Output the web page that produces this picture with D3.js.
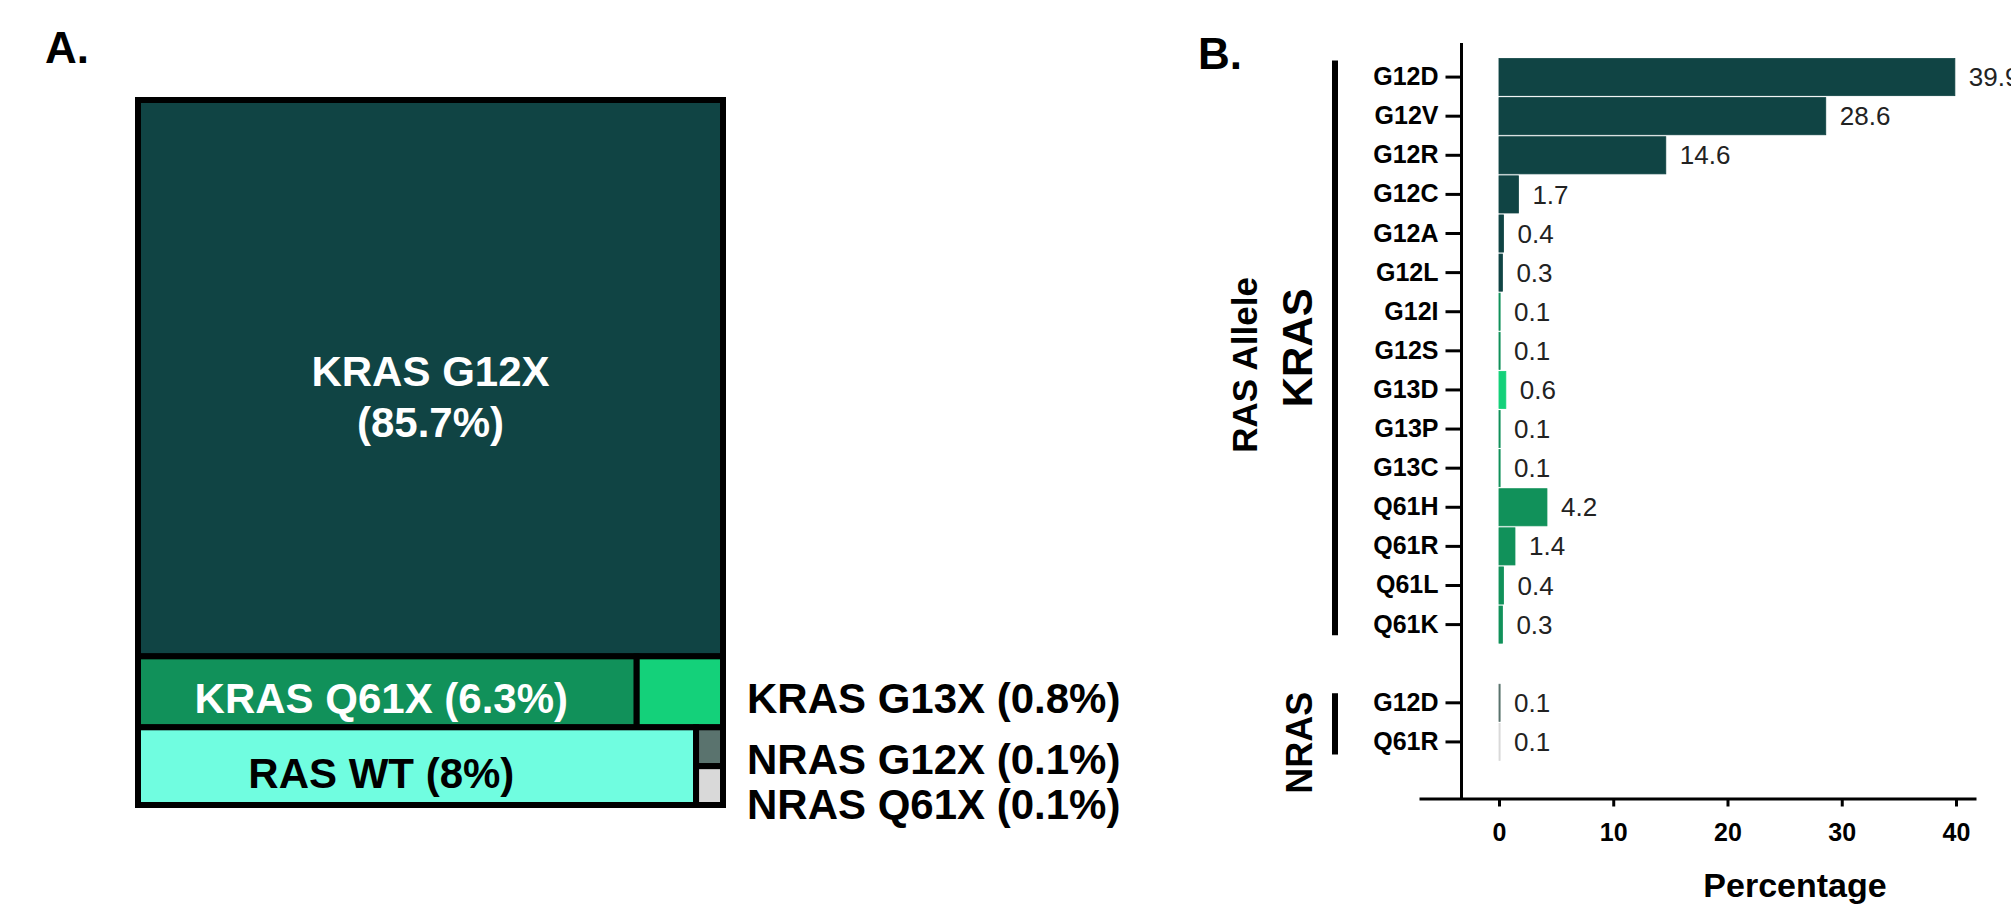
<!DOCTYPE html>
<html>
<head>
<meta charset="utf-8">
<script src="https://cdn.jsdelivr.net/npm/d3@7"></script>
<style>
  html, body { margin: 0; padding: 0; background: #fff; }
  svg { display: block; font-family: "Liberation Sans", Arial, Helvetica, sans-serif; }
</style>
</head>
<body>
<svg id="chart" width="2011" height="904"></svg>
<script>
// panel A: share of RAS groups (%)
const groupNames = ['KRAS G12X', 'KRAS Q61X', 'KRAS G13X', 'RAS WT', 'NRAS G12X', 'NRAS Q61X'];
const groupValues = [85.7, 6.3, 0.8, 8, 0.1, 0.1];
const groupColors = ['#104444', '#11915a', '#14d17a', '#70fde0', '#5a736e', '#d9d9d9'];

// panel B: individual alleles (%)
const kAlleles = ['G12D', 'G12V', 'G12R', 'G12C', 'G12A', 'G12L', 'G12I', 'G12S', 'G13D', 'G13P', 'G13C', 'Q61H', 'Q61R', 'Q61L', 'Q61K'];
const kValues = [39.9, 28.6, 14.6, 1.7, 0.4, 0.3, 0.1, 0.1, 0.6, 0.1, 0.1, 4.2, 1.4, 0.4, 0.3];
const kColors = ['#104444', '#104444', '#104444', '#104444', '#104444', '#104444', '#11915a', '#11915a',
  '#14d17a', '#11915a', '#11915a', '#11915a', '#11915a', '#11915a', '#11915a'];
const nAlleles = ['G12D', 'Q61R'];
const nValues = [0.1, 0.1];
const nColors = ['#5a736e', '#d9d9d9'];
const xTicks = [0, 10, 20, 30, 40];

const svg = d3.select('#chart');
svg.append('rect').attr('width', 2011).attr('height', 904).attr('fill', '#fff');

// ---------- panel A ----------
svg.append('text').attr('x', 45).attr('y', 63)
  .attr('font-size', 44).attr('font-weight', 'bold').text('A.');

const leaf = i => ({name: groupNames[i], value: groupValues[i], color: groupColors[i]});
const tree = {
  name: 'root',
  children: [
    {name: 'row1', children: [leaf(0)]},
    {name: 'row2', children: [leaf(1), leaf(2)]},
    {name: 'row3', children: [leaf(3), {name: 'nras', children: [leaf(4), leaf(5)]}]}
  ]
};

// small groups get a softened area so they stay visible
const area = d3.scalePow().exponent(0.85).domain([0, 1]).range([0, 1]);
const root = d3.hierarchy(tree).sum(d => d.children ? 0 : area(d.value));

const tile = (node, x0, y0, x1, y1) =>
  (node.depth % 2 ? d3.treemapDice : d3.treemapSlice)(node, x0, y0, x1, y1);

d3.treemap().tile(tile).size([585, 705])(root);

const gA = svg.append('g').attr('transform', 'translate(138,100)');
const cells = root.leaves();

gA.selectAll('rect')
  .data(cells)
  .join('rect')
  .attr('x', d => d.x0)
  .attr('y', d => d.y0)
  .attr('width', d => d.x1 - d.x0)
  .attr('height', d => d.y1 - d.y0)
  .attr('fill', d => d.data.color)
  .attr('stroke', '#000')
  .attr('stroke-width', 6);

const cell = name => cells.find(d => d.data.name === name);
const cx = d => (d.x0 + d.x1) / 2;
const cy = d => (d.y0 + d.y1) / 2;
const pct = d => `${d.data.name} (${d.data.value}%)`;

const big = cell('KRAS G12X');
gA.append('text').attr('x', cx(big)).attr('y', cy(big) + 8)
  .attr('text-anchor', 'middle').attr('fill', '#fff')
  .attr('font-size', 42).attr('font-weight', 'bold').text(big.data.name);
gA.append('text').attr('x', cx(big)).attr('y', cy(big) + 59)
  .attr('text-anchor', 'middle').attr('fill', '#fff')
  .attr('font-size', 42).attr('font-weight', 'bold').text(`(${big.data.value}%)`);

const q61 = cell('KRAS Q61X');
gA.append('text').attr('x', cx(q61) - 6).attr('y', cy(q61) + 21)
  .attr('text-anchor', 'middle').attr('fill', '#fff')
  .attr('font-size', 42).attr('font-weight', 'bold').text(pct(q61));

const wt = cell('RAS WT');
gA.append('text').attr('x', cx(q61) - 6).attr('y', cy(wt) + 22)
  .attr('text-anchor', 'middle').attr('fill', '#000')
  .attr('font-size', 42).attr('font-weight', 'bold').text(pct(wt));

// labels for the small cells, outside on the right
const outside = [['KRAS G13X', 21], ['NRAS G12X', 27], ['NRAS Q61X', 33]];
outside.forEach(([name, dy]) => {
  const d = cell(name);
  gA.append('text').attr('x', 609).attr('y', cy(d) + dy)
    .attr('font-size', 42).attr('font-weight', 'bold').text(pct(d));
});

// ---------- panel B ----------
svg.append('text').attr('x', 1198).attr('y', 69)
  .attr('font-size', 44).attr('font-weight', 'bold').text('B.');

const rows = kAlleles.map((a, i) => ({key: 'KRAS ' + a, label: a, value: kValues[i], color: kColors[i]}))
  .concat(nAlleles.map((a, i) => ({key: 'NRAS ' + a, label: a, value: nValues[i], color: nColors[i]})));
const keys = rows.slice(0, kAlleles.length).map(d => d.key)
  .concat(['gap'], rows.slice(kAlleles.length).map(d => d.key));

const x = d3.scaleLinear().domain([-7, 41.75]).range([1419, 1976]);
const y = d3.scaleBand().domain(keys).range([58.5, 760.5]).paddingInner(0.05);

svg.append('g')
  .selectAll('rect')
  .data(rows)
  .join('rect')
  .attr('x', x(0))
  .attr('y', d => y(d.key))
  .attr('width', d => x(d.value) - x(0))
  .attr('height', y.bandwidth())
  .attr('fill', d => d.color)
  .attr('stroke', d => d.color)
  .attr('stroke-width', 0.8);

svg.append('g')
  .selectAll('text')
  .data(rows)
  .join('text')
  .attr('x', d => x(d.value) + 14)
  .attr('y', d => y(d.key) + y.bandwidth() / 2)
  .attr('dy', '0.35em')
  .attr('font-size', 26)
  .attr('fill', '#222')
  .text(d => d.value);

// y axis
const axisX = 1461.5;
const yAxis = d3.axisLeft(y)
  .tickValues(keys.filter(k => k !== 'gap'))
  .tickSize(16)
  .tickPadding(7)
  .tickFormat(k => k.split(' ')[1]);
const gY = svg.append('g').attr('transform', `translate(${axisX},0)`).call(yAxis);
gY.select('.domain').remove();
gY.selectAll('line').attr('stroke', '#000').attr('stroke-width', 3);
gY.selectAll('text').attr('fill', '#000').attr('font-size', 25).attr('font-weight', 'bold')
  .attr('font-family', '"Liberation Sans", Arial, sans-serif');
svg.append('line').attr('x1', axisX).attr('x2', axisX).attr('y1', 43).attr('y2', 800)
  .attr('stroke', '#000').attr('stroke-width', 3);

// x axis
const xAxis = d3.axisBottom(x).tickValues(xTicks).tickSize(8).tickSizeOuter(0).tickPadding(17);
const gX = svg.append('g').attr('transform', 'translate(0,798.5)').call(xAxis);
gX.select('.domain').attr('stroke', '#000').attr('stroke-width', 3);
gX.selectAll('line').attr('stroke', '#000').attr('stroke-width', 3);
gX.selectAll('text').attr('fill', '#000').attr('font-size', 25).attr('font-weight', 'bold')
  .attr('font-family', '"Liberation Sans", Arial, sans-serif');

svg.append('text').attr('x', 1795).attr('y', 897)
  .attr('text-anchor', 'middle').attr('font-size', 34).attr('font-weight', 'bold').text('Percentage');

// group brackets and labels
const firstK = 'KRAS ' + kAlleles[0], lastK = 'KRAS ' + kAlleles[kAlleles.length - 1];
const firstN = 'NRAS ' + nAlleles[0], lastN = 'NRAS ' + nAlleles[nAlleles.length - 1];
const brackets = [
  {name: 'KRAS', y0: y(firstK) + 2, y1: y(lastK) + y.bandwidth() - 8, size: 42, shift: 0},
  {name: 'NRAS', y0: y(firstN) + 9, y1: y(lastN) + y.bandwidth() - 6, size: 36, shift: 19}
];
brackets.forEach(b => {
  svg.append('line').attr('x1', 1335).attr('x2', 1335).attr('y1', b.y0).attr('y2', b.y1)
    .attr('stroke', '#000').attr('stroke-width', 6);
  svg.append('text')
    .attr('transform', `translate(1312,${(b.y0 + b.y1) / 2 + b.shift}) rotate(-90)`)
    .attr('text-anchor', 'middle').attr('font-size', b.size).attr('font-weight', 'bold').text(b.name);
});

svg.append('text')
  .attr('transform', 'translate(1257,365) rotate(-90)')
  .attr('text-anchor', 'middle').attr('font-size', 35).attr('font-weight', 'bold').text('RAS Allele');
</script>
</body>
</html>
